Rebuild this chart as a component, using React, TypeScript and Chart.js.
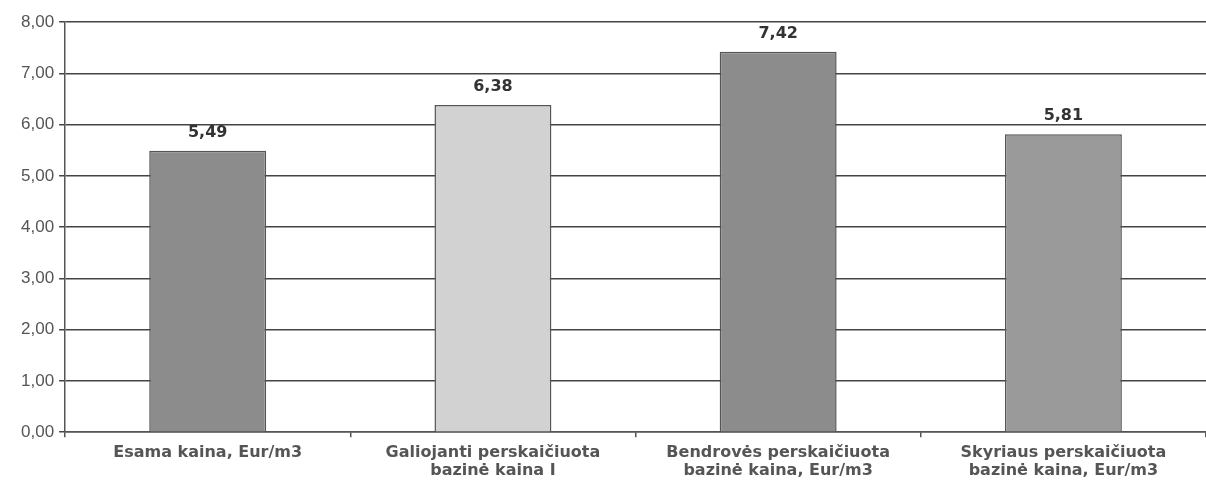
import React, { useEffect, useRef } from "react";
import { Chart, registerables } from "chart.js";

Chart.register(...registerables);

const categories: string[][] = [
  ["Esama kaina, Eur/m3"],
  ["Galiojanti perskaičiuota", "bazinė kaina I"],
  ["Bendrovės perskaičiuota", "bazinė kaina, Eur/m3"],
  ["Skyriaus perskaičiuota", "bazinė kaina, Eur/m3"],
];
const values: number[] = [5.49, 6.38, 7.42, 5.81];
const barColors: string[] = ["#8c8c8c", "#d2d2d2", "#8c8c8c", "#9a9a9a"];

const fmt = (v: number) => v.toFixed(2).replace(".", ",");

const valueLabels = {
  id: "valueLabels",
  afterDatasetsDraw(chart: any) {
    const ctx = chart.ctx;
    const meta = chart.getDatasetMeta(0);
    ctx.save();
    ctx.font = "bold 16px 'DejaVu Sans', sans-serif";
    ctx.fillStyle = "#333";
    ctx.textAlign = "center";
    ctx.textBaseline = "bottom";
    meta.data.forEach((el: any, i: number) => {
      ctx.fillText(fmt(values[i]), el.x, el.y - 10);
    });
    ctx.restore();
  },
};

export default function App() {
  const ref = useRef<HTMLCanvasElement | null>(null);
  useEffect(() => {
    document.body.style.margin = "0";
    const chart = new Chart(ref.current!, {
      type: "bar",
      data: {
        labels: categories,
        datasets: [
          {
            data: values,
            backgroundColor: barColors,
            borderColor: "#555",
            borderWidth: 1.5,
            categoryPercentage: 1,
            barPercentage: 0.41,
          },
        ],
      },
      options: {
        animation: false,
        responsive: false,
        maintainAspectRatio: false,
        layout: { padding: { top: 22, right: 0, left: 16, bottom: 0 } },
        plugins: { legend: { display: false }, tooltip: { enabled: false } },
        scales: {
          x: {
            offset: true,
            grid: {
              display: true,
              drawOnChartArea: false,
              offset: true,
              tickLength: 5,
              color: "#555",
              lineWidth: 1.5,
            },
            border: { color: "#555", width: 1.5 },
            ticks: {
              color: "#555",
              padding: 6,
              maxRotation: 0,
              autoSkip: false,
              font: { family: "'DejaVu Sans', sans-serif", size: 16, weight: "bold", lineHeight: 1.15 },
            },
          },
          y: {
            min: 0,
            max: 8,
            grid: { color: "#444", lineWidth: 1.5, tickLength: 6 },
            border: { color: "#555", width: 1.5 },
            ticks: {
              stepSize: 1,
              color: "#555",
              padding: 5,
              font: { family: "Arial, 'Liberation Sans', sans-serif", size: 17 },
              callback: (v: any) => fmt(Number(v)),
            },
          },
        },
      },
      plugins: [valueLabels],
    });
    return () => chart.destroy();
  }, []);
  return (
    <div style={{ width: 1206, height: 486, background: "#fff" }}>
      <canvas ref={ref} width={1206} height={486} />
    </div>
  );
}
